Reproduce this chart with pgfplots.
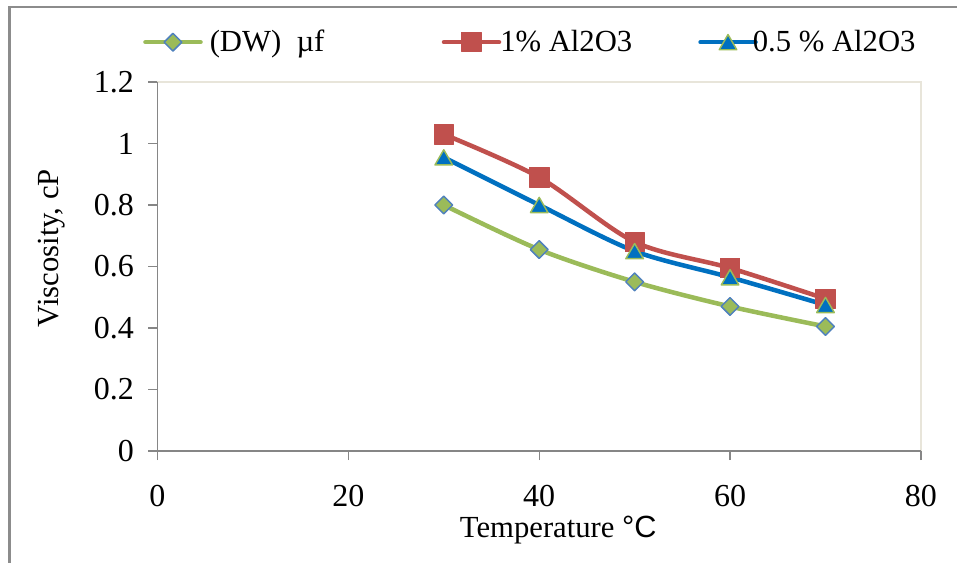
\documentclass[border=0pt]{standalone}
\usepackage{fontspec}
\setmainfont{Liberation Serif}
\setsansfont{Liberation Sans}
\usepackage{pgfplots}
\pgfplotsset{compat=1.18}
\definecolor{cred}{HTML}{C0504D}
\definecolor{cblue}{HTML}{0070C0}
\definecolor{cgreen}{HTML}{9BBB59}
\definecolor{cdedge}{HTML}{4F81BD}
\definecolor{axgray}{HTML}{868686}
\definecolor{pbeige}{HTML}{E8E5DA}
\definecolor{framegray}{HTML}{8C8C8C}
\newcommand\fs{\fontsize{23}{27}\selectfont}
\newcommand\fst{\fontsize{24}{28}\selectfont}
\begin{document}
\begin{tikzpicture}
\useasboundingbox (0pt,0pt) rectangle (717.75pt,421.5pt);
\draw[framegray, line width=2pt] (7pt,-2pt) -- (7pt,416.25pt) -- (720pt,416.25pt);
\begin{axis}[
  at={(118.1pt,83.25pt)}, anchor=south west,
  scale only axis, width=572.6pt, height=276.75pt,
  xmin=0, xmax=80, ymin=0, ymax=1.2,
  xtick={0,20,40,60,80},
  ytick={0,0.2,0.4,0.6,0.8,1,1.2},
  yticklabels={0,0.2,0.4,0.6,0.8,1,1.2},
  tick align=outside, xtick pos=bottom, ytick pos=left,
  major tick length=6.75pt,
  tick style={axgray, line width=0.9pt},
  axis line style={draw=none},
  clip=false,
  /pgf/number format/assume math mode=true,
  ticklabel style={font=\fst},
  xticklabel style={yshift=-15pt},
  yticklabel style={xshift=-7.5pt},
  xlabel={Temperature {\sffamily °C}},
  ylabel={Viscosity, cP},
  label style={font=\fs},
  xlabel style={at={(axis description cs:0.525,-0.215)}, anchor=center},
  ylabel style={at={(axis description cs:-0.138,0.55)}, anchor=center},
  legend columns=3,
  legend style={at={(axis description cs:-0.019,1.108)}, anchor=west,
    draw=none, fill=none, inner sep=0pt, column sep=0pt, font=\fs,
    nodes={inner sep=0pt}},
  legend image code/.code={\draw[#1, mark repeat=2, mark phase=2] plot coordinates {(0pt,0pt) (20.6pt,0pt) (41.25pt,0pt)};},
  every axis plot/.append style={line width=3.4pt, line cap=round, line join=round},
]
\draw[pbeige, line width=1pt] (rel axis cs:0,1) -- (rel axis cs:1,1) -- (rel axis cs:1,0);
\draw[axgray, line width=1.2pt] (rel axis cs:0,1) -- (rel axis cs:0,0) -- (rel axis cs:1,0);
\addplot[cgreen, smooth, mark=square*, mark size=4.7pt,
  mark options={rotate=45, fill=cgreen, draw=cdedge, line width=1.1pt}]
  coordinates {(30,0.80) (40,0.655) (50,0.55) (60,0.47) (70,0.405)};
\addlegendentry{\makebox[179.25pt][l]{\hspace{5.25pt}(DW)\ \ µf}}
\addplot[cred, smooth, mark=square*, mark size=7.3pt,
  mark options={fill=cred, draw=cred, line width=0.6pt}]
  coordinates {(30,1.03) (40,0.89) (50,0.68) (60,0.595) (70,0.495)};
\addlegendentry{\makebox[147.75pt][l]{\hspace{-0.75pt}1\% Al2O3}}
\addplot[cblue, smooth, mark=triangle*, mark size=7.6pt,
  mark options={fill=cblue, draw=cgreen, line width=1.1pt, yshift=-1.9pt}]
  coordinates {(30,0.955) (40,0.80) (50,0.65) (60,0.565) (70,0.475)};
\addlegendentry{\hspace{-3.75pt}0.5 \% Al2O3}
\end{axis}
\end{tikzpicture}
\end{document}
